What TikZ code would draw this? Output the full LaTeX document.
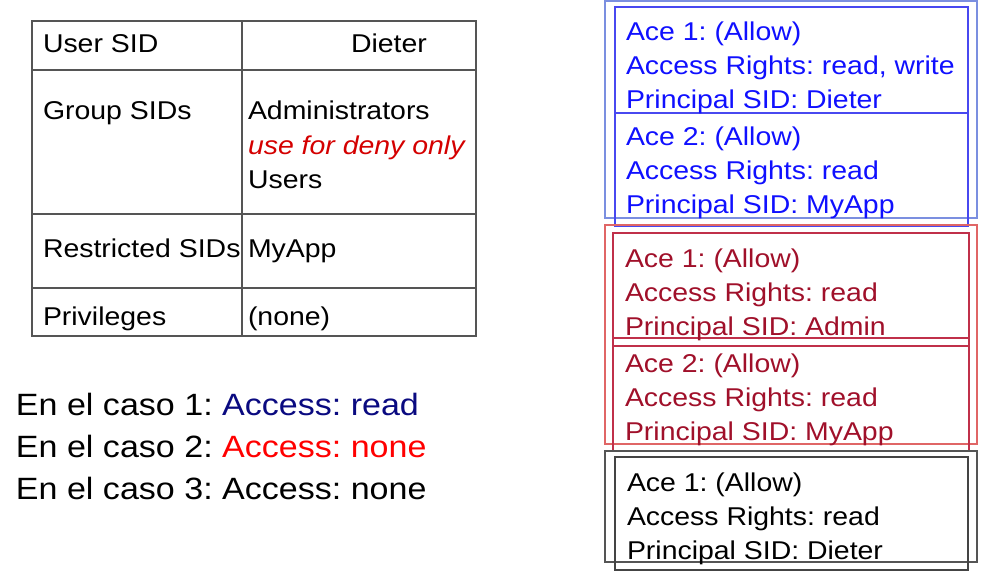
\documentclass[tikz,border=0pt]{standalone}
\usepackage{fontspec}
\setmainfont[FakeStretch=1.105]{Liberation Sans}
\frenchspacing
\definecolor{navyt}{HTML}{0A0A80}
\definecolor{redt}{HTML}{FF0000}
\definecolor{denyred}{HTML}{D40000}
\definecolor{bluet}{HTML}{1010FF}
\definecolor{darkredt}{HTML}{A0102A}
\definecolor{blueouter}{HTML}{7B8FE0}
\definecolor{blueinner}{HTML}{4848F0}
\definecolor{redouter}{HTML}{E06666}
\definecolor{redinner}{HTML}{C0304A}
\definecolor{grayouter}{HTML}{555555}
\definecolor{grayinner}{HTML}{444444}
\definecolor{gridc}{HTML}{555555}
\newcommand\smallfnt{\frenchspacing\fontsize{19.3}{23}\selectfont}
\newcommand\bigfnt{\frenchspacing\fontsize{23.1}{28}\selectfont}
\tikzset{
  txt/.style={anchor=base west, inner sep=0pt, outer sep=0pt, font=\smallfnt},
  bigtxt/.style={anchor=base west, inner sep=0pt, outer sep=0pt, font=\bigfnt},
  gridline/.style={draw=gridc, line width=0.8pt},
  boxline/.style={line width=0.8pt},
}
\begin{document}
\begin{tikzpicture}[x=0.75pt,y=-0.75pt]
\useasboundingbox (0,0) rectangle (981,574);
% ---------- table ----------
\draw[gridline] (32,21) rectangle (476,336);
\draw[gridline] (242,21) -- (242,336);
\draw[gridline] (32,70) -- (476,70);
\draw[gridline] (32,214) -- (476,214);
\draw[gridline] (32,288) -- (476,288);
\node[txt] (usersid) at (43,52.7) {User SID};
\node[txt] (dieter) at (351,52.7) {Dieter};
\node[txt] (groupsids) at (43,120) {Group SIDs};
\node[txt] (admins) at (248,120) {Administrators};
\node[txt, text=denyred, font=\smallfnt\itshape] (deny) at (248,155) {use for deny only};
\node[txt] (users) at (248,189) {Users};
\node[txt] (restricted) at (43,257) {Restricted SIDs};
\node[txt] (myapp) at (248,257) {MyApp};
\node[txt] (privs) at (43,325) {Privileges};
\node[txt] (none) at (248,325) {(none)};
% ---------- cases ----------
\node[bigtxt] (case1) at (16,415) {En el caso 1: \textcolor{navyt}{Access: read}};
\node[bigtxt] (case2) at (16,457) {En el caso 2: \textcolor{redt}{Access: none}};
\node[bigtxt] (case3) at (16,499) {En el caso 3: Access: none};
% ---------- blue ACL ----------
\draw[boxline, draw=blueouter] (605,1) rectangle (977,218);
\draw[boxline, draw=blueinner] (615,7) rectangle (968,113);
\draw[boxline, draw=blueinner] (615,113) rectangle (968,226);
\node[txt, text=bluet] (b1a) at (626,41) {Ace 1: (Allow)};
\node[txt, text=bluet] (b1b) at (626,75) {Access Rights: read, write};
\node[txt, text=bluet] (b1c) at (626,109) {Principal SID: Dieter};
\node[txt, text=bluet] (b2a) at (626,146) {Ace 2: (Allow)};
\node[txt, text=bluet] (b2b) at (626,180) {Access Rights: read};
\node[txt, text=bluet] (b2c) at (626,214) {Principal SID: MyApp};
% ---------- red ACL ----------
\draw[boxline, draw=redouter] (605,225) rectangle (977,444);
\draw[boxline, draw=redinner] (613,233) rectangle (969,346);
\draw[boxline, draw=redinner] (613,338) rectangle (969,451);
\node[txt, text=darkredt] (r1a) at (625,267) {Ace 1: (Allow)};
\node[txt, text=darkredt] (r1b) at (625,301) {Access Rights: read};
\node[txt, text=darkredt] (r1c) at (625,335) {Principal SID: Admin};
\node[txt, text=darkredt] (r2a) at (625,372) {Ace 2: (Allow)};
\node[txt, text=darkredt] (r2b) at (625,406) {Access Rights: read};
\node[txt, text=darkredt] (r2c) at (625,440) {Principal SID: MyApp};
% ---------- black ACL ----------
\draw[boxline, draw=grayouter] (605,451) rectangle (977,562);
\draw[boxline, draw=grayinner] (615,457) rectangle (968,570);
\node[txt] (k1a) at (627,491) {Ace 1: (Allow)};
\node[txt] (k1b) at (627,525) {Access Rights: read};
\node[txt] (k1c) at (627,559) {Principal SID: Dieter};
\end{tikzpicture}
\end{document}
